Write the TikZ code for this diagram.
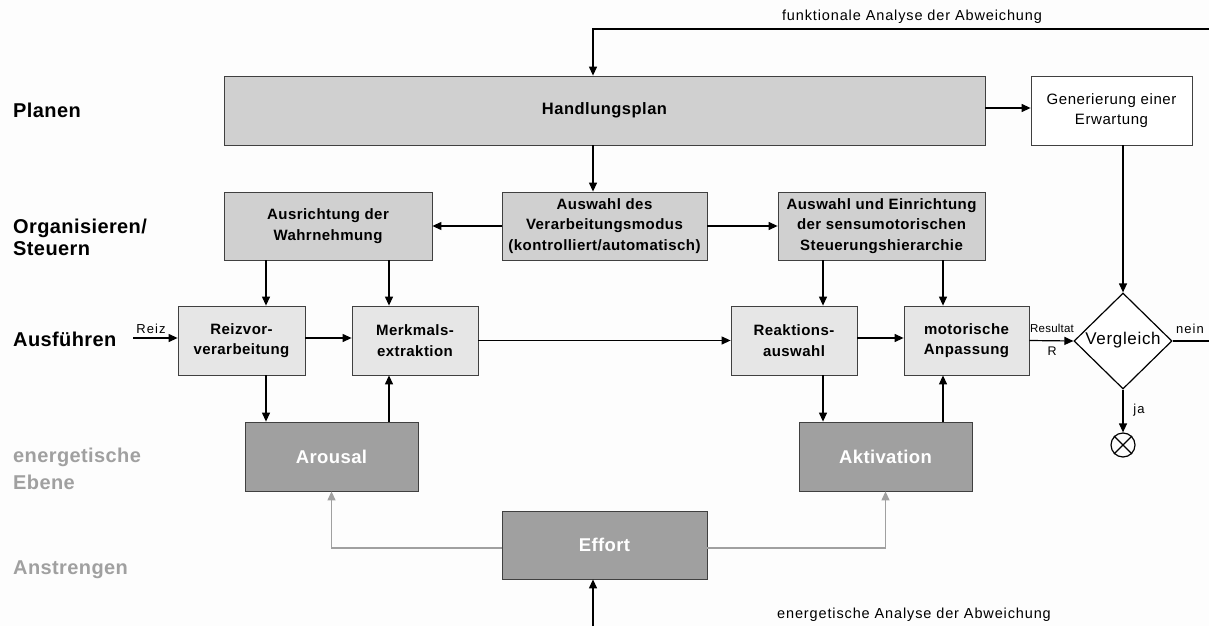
\documentclass[tikz,border=0pt]{standalone}
\usepackage{fontspec}
\setmainfont{Liberation Sans}
\usetikzlibrary{arrows.meta,shapes.geometric}
\definecolor{bgc}{HTML}{FDFDFD}
\definecolor{boxA}{HTML}{D0D0D0}
\definecolor{boxB}{HTML}{E6E6E6}
\definecolor{boxC}{HTML}{A0A0A0}
\definecolor{edgec}{HTML}{404040}
\definecolor{energy}{HTML}{A0A0A0}
\newcommand\fsz[3]{\fontsize{#1}{#2}\selectfont\addfontfeatures{LetterSpace=#3}}
\begin{document}
\begin{tikzpicture}[x=1pt,y=-1pt,
  blk/.style={draw=edgec, line width=0.8pt, inner sep=0pt, align=center,
    font=\fsz{15}{20.5}{3}\bfseries},
  blkA/.style={blk, fill=boxA},
  blkB/.style={blk, fill=boxB},
  blkC/.style={blk, fill=boxC, text=white, font=\fsz{18.5}{20}{2}\bfseries},
  blkW/.style={blk, fill=white, font=\fsz{15}{20.5}{4}},
  arr/.style={line width=1.2pt, -{Triangle[length=9pt,width=8pt]}},
  garr/.style={line width=1.2pt, draw=energy, -{Triangle[length=9pt,width=8pt]}, energy},
  lvl/.style={anchor=west, align=left, inner sep=0pt, font=\fsz{20}{22}{2}\bfseries},
  lbl/.style={inner sep=0pt, font=\fsz{12.5}{14}{4}},
]
\fill[bgc] (0,0) rectangle (1209,626);
\useasboundingbox (0,0) rectangle (1209,626);

% level labels
\node[lvl] (lPlan) at (13,110) {Planen};
\node[lvl] (lOrg) at (13,237) {Organisieren/\\Steuern};
\node[lvl] (lAus) at (13,339) {Ausführen};
\node[lvl, text=energy, font=\fsz{20}{27}{2}\bfseries] (lEne) at (13,469) {energetische\\Ebene};
\node[lvl, text=energy] (lAns) at (13,570) {Anstrengen};

% boxes
\node[blkA, minimum width=761pt, minimum height=69pt, font=\fsz{16.5}{20}{3}\bfseries] (plan) at (604.5,110.5) {Handlungsplan};
\node[blkW, minimum width=161pt, minimum height=69pt] (gen) at (1111.5,110.5) {Generierung einer\\Erwartung};
\node[blkA, minimum width=208pt, minimum height=68pt] (ausr) at (328,226) {Ausrichtung der\\Wahrnehmung};
\node[blkA, minimum width=205pt, minimum height=68pt] (modus) at (604.5,226) {Auswahl des\\Verarbeitungsmodus\\(kontrolliert/automatisch)};
\node[blkA, minimum width=207pt, minimum height=68pt] (einr) at (881.5,226) {Auswahl und Einrichtung\\der sensumotorischen\\Steuerungshierarchie};
\node[blkB, minimum width=127pt, minimum height=69pt] (reiz) at (241.5,340.5) {Reizvor-\\verarbeitung};
\node[blkB, minimum width=126pt, minimum height=69pt] (merk) at (415,340.5) {Merkmals-\\extraktion};
\node[blkB, minimum width=126pt, minimum height=69pt] (reak) at (794,340.5) {Reaktions-\\auswahl};
\node[blkB, minimum width=125pt, minimum height=69pt] (moto) at (966.5,340.5) {motorische\\Anpassung};
\node[blkC, minimum width=173pt, minimum height=69pt] (arou) at (331.5,456.5) {Arousal};
\node[blkC, minimum width=173pt, minimum height=69pt] (akti) at (885.5,456.5) {Aktivation};
\node[blkC, minimum width=205pt, minimum height=68pt] (eff) at (604.5,545) {Effort};

\node[diamond, draw=black, line width=1.2pt, fill=white, minimum width=98pt, minimum height=96pt, inner sep=0pt] (cmp) at (1123,341) {};
\node[font=\fsz{17}{18}{4}, inner sep=0pt] (cmpT) at (1123,340) {Vergleich};
\node[circle, draw=black, line width=1.2pt, minimum size=24pt, inner sep=0pt] (endc) at (1123,445) {};
\draw[line width=1.2pt] (endc.north east) -- (endc.south west) (endc.north west) -- (endc.south east);

% helper coordinates
\coordinate (c593) at (593,0);
\coordinate (c266) at (266,0);
\coordinate (c389) at (389,0);
\coordinate (c823) at (823,0);
\coordinate (c943) at (943,0);
\coordinate (fbR) at (1209,29);
\coordinate (rin) at (133,338);
\coordinate (bot) at (593,626);
\coordinate (neinR) at (1209,341);

% connectors
\draw[arr] (fbR) -| (plan.north -| c593);
\draw[arr] (plan.south -| c593) -- (modus.north -| c593);
\draw[arr] (plan.east |- 0,108) -- (gen.west |- 0,108);
\draw[arr] (modus.west) -- (ausr.east);
\draw[arr] (modus.east) -- (einr.west);
\draw[arr] (ausr.south -| c266) -- (reiz.north -| c266);
\draw[arr] (ausr.south -| c389) -- (merk.north -| c389);
\draw[arr] (einr.south -| c823) -- (reak.north -| c823);
\draw[arr] (einr.south -| c943) -- (moto.north -| c943);
\draw[arr] (gen.south -| cmp.north) -- (cmp.north);
\draw[arr] (rin) -- (reiz.west |- rin);
\draw[arr] (reiz.east |- rin) -- (merk.west |- rin);
\draw[arr] (merk.east) -- (reak.west);
\draw[arr] (reak.east |- rin) -- (moto.west |- rin);
\draw[arr] (moto.east) -- (cmp.west);
\draw[line width=1.2pt] (cmp.east) -- (neinR);
\draw[arr] (cmp.south) -- (endc.north);
\draw[arr] (reiz.south -| c266) -- (arou.north -| c266);
\draw[arr] (arou.north -| c389) -- (merk.south -| c389);
\draw[arr] (reak.south -| c823) -- (akti.north -| c823);
\draw[arr] (akti.north -| c943) -- (moto.south -| c943);
\draw[garr] (eff.west |- 0,548) -| (arou.south);
\draw[garr] (eff.east |- 0,548) -| (akti.south);
\draw[arr] (bot) -- (eff.south -| bot);

% labels
\node[lbl, font=\fsz{14.5}{16}{6}] (tFunk) at (912,17) {funktionale Analyse der Abweichung};
\node[lbl, font=\fsz{14.5}{16}{6}] (tEner) at (914,615) {energetische Analyse der Abweichung};
\node[lbl, font=\fsz{13}{14}{8}] (tReiz) at (151,329) {Reiz};
\node[lbl, font=\fsz{11.5}{14}{2}] (tRes) at (1052,328) {Resultat};
\node[lbl] (tR) at (1052,351) {R};
\node[lbl, font=\fsz{13}{14}{8}] (tNein) at (1190,329) {nein};
\node[lbl, font=\fsz{13}{14}{8}] (tJa) at (1139,410) {ja};
\end{tikzpicture}
\end{document}
